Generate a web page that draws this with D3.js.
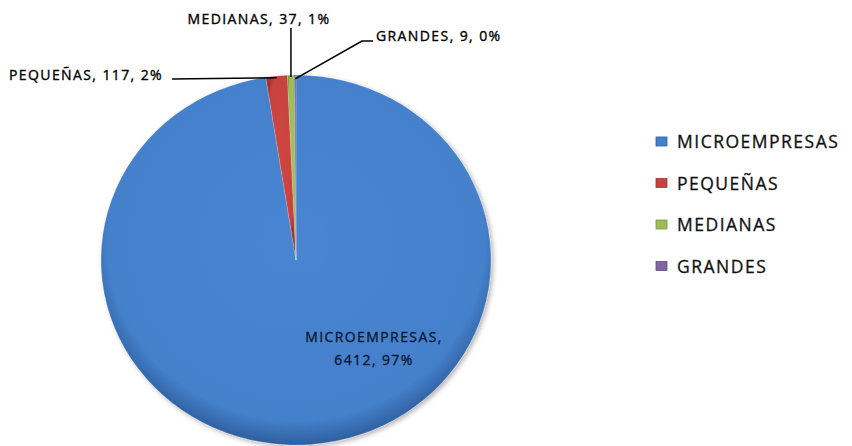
<!DOCTYPE html>
<html>
<head>
<meta charset="utf-8">
<script src="https://cdn.jsdelivr.net/npm/d3@7"></script>
<style>
  body { margin: 0; background: #fff; }
  text { font-family: "Open Sans", sans-serif; }
</style>
</head>
<body>
<script>
const categories = ["MICROEMPRESAS", "PEQUEÑAS", "MEDIANAS", "GRANDES"];
const values = [6412, 117, 37, 9];
const percents = ["97%", "2%", "1%", "0%"];
const colors = ["#4580CB", "#C8433F", "#9BBB59", "#8064A2"];

const w = 852, h = 446;
const cx = 296, cy = 260, rx = 195, ry = 185;

const svg = d3.select("body").append("svg")
  .attr("width", w).attr("height", h);

const defs = svg.append("defs");
const dark = ["#2F5F9E", "#A33330", "#7E9C42", "#654D86"];
colors.forEach((c, i) => {
  const g = defs.append("radialGradient").attr("id", "g" + i)
    .attr("cx", "50%").attr("cy", "45%").attr("r", "55%");
  g.append("stop").attr("offset", "0%").attr("stop-color", d3.color(c).brighter(0.1));
  g.append("stop").attr("offset", "88%").attr("stop-color", c);
  g.append("stop").attr("offset", "100%").attr("stop-color", dark[i]);
});
const sh = defs.append("filter").attr("id", "sh")
  .attr("x", "-10%").attr("y", "-10%").attr("width", "120%").attr("height", "120%");
sh.append("feDropShadow").attr("dx", 2).attr("dy", 2).attr("stdDeviation", 2.5)
  .attr("flood-color", "#000").attr("flood-opacity", 0.3);

const pie = d3.pie().sort(null).value(d => d);
const arcs = pie(values);
const arc = d3.arc().innerRadius(0).outerRadius(ry);

const pg = svg.append("g")
  .attr("transform", `translate(${cx},${cy}) scale(${rx / ry},1)`)
  .attr("filter", "url(#sh)");

pg.selectAll("path").data(arcs).enter().append("path")
  .attr("d", arc)
  .attr("fill", (d, i) => `url(#g${i})`)
  .attr("stroke", "rgba(255,255,255,0.3)")
  .attr("stroke-width", 0.6);

// point on the rim at the middle angle of a slice
function rim(d, k) {
  const a = (d.startAngle + d.endAngle) / 2;
  return [cx + Math.sin(a) * rx * k, cy - Math.cos(a) * ry * k];
}

const fs = 14, ls = 1.4;
const outside = [
  {i: 1, tx: 9, ty: 80, anchor: "start", line: p => [[172, 79], [p[0], p[1]]]},
  {i: 2, tx: 259, ty: 24, anchor: "middle", line: p => [[p[0], 28], [p[0], p[1]]]},
  {i: 3, tx: 376, ty: 41, anchor: "start", line: p => [[373, 41], [362, 41], [p[0], p[1] + 2]]}
];

outside.forEach(o => {
  const d = arcs[o.i];
  const p = rim(d, 0.99);
  svg.append("path")
    .attr("d", d3.line()(o.line(p)))
    .attr("fill", "none").attr("stroke", "#000").attr("stroke-width", 1.5);
  svg.append("text")
    .attr("x", o.tx).attr("y", o.ty)
    .attr("text-anchor", o.anchor)
    .attr("font-size", fs).attr("letter-spacing", ls)
    .attr("fill", "#000").attr("stroke", "#000").attr("stroke-width", 0.35)
    .text(`${categories[o.i]}, ${values[o.i]}, ${percents[o.i]}`);
});

const t = svg.append("text")
  .attr("text-anchor", "middle")
  .attr("font-size", fs).attr("letter-spacing", ls)
  .attr("fill", "#0b1a33").attr("stroke", "#0b1a33").attr("stroke-width", 0.35);
t.append("tspan").attr("x", 374).attr("y", 342).text(categories[0] + ",");
t.append("tspan").attr("x", 374).attr("y", 365).text(`${values[0]}, ${percents[0]}`);

// legend
const lg = svg.append("g").attr("transform", "translate(656,148)");
const rows = lg.selectAll("g").data(categories).enter().append("g")
  .attr("transform", (d, i) => `translate(0,${i * 41.5})`);
rows.append("rect")
  .attr("x", 0).attr("y", -11).attr("width", 11).attr("height", 9)
  .attr("fill", (d, i) => colors[i])
  .attr("stroke", (d, i) => dark[i]).attr("stroke-width", 0.8);
rows.append("text")
  .attr("x", 21).attr("y", 0)
  .attr("font-size", 17.5).attr("letter-spacing", 1.5)
  .attr("fill", "#111").attr("stroke", "#111").attr("stroke-width", 0.3)
  .text(d => d);
</script>
</body>
</html>
